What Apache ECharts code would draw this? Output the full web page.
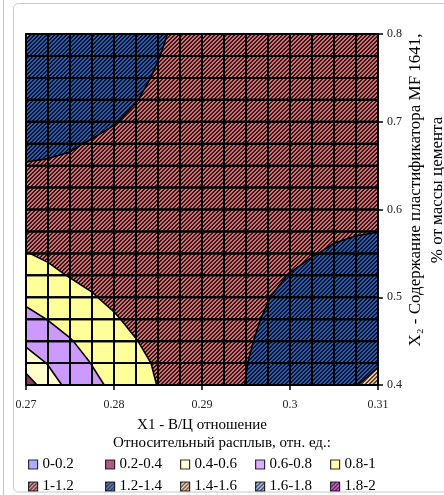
<!DOCTYPE html>
<html><head><meta charset="utf-8">
<script src="https://cdn.jsdelivr.net/npm/echarts@6/dist/echarts.min.js"></script>
<style>html,body{margin:0;padding:0;background:#fff;}#c{width:444px;height:495px;}</style>
</head><body><div id="c"></div>
<script>
// X1 (В/Ц) grid nodes and X2 (MF 1641) grid nodes
const xValues = [0.27,0.2725,0.275,0.2775,0.28,0.2825,0.285,0.2875,0.29,0.2925,0.295,0.2975,0.3,0.3025,0.305,0.3075,0.31];
const yValues = [0.4,0.425,0.45,0.475,0.5,0.525,0.55,0.575,0.6,0.625,0.65,0.675,0.7,0.725,0.75,0.775,0.8];
// Relative spread values, one array per X2 level
const z_0400 = [0.30,0.50,0.66,0.748,0.842,0.926,1.005,1.06,1.111,1.16,1.203,1.258,1.31,1.352,1.388,1.398,1.42];
const z_0425 = [0.486,0.611,0.706,0.807,0.886,0.968,1.015,1.077,1.128,1.16,1.196,1.245,1.305,1.346,1.38,1.385,1.395];
const z_0450 = [0.642,0.706,0.789,0.863,0.938,0.995,1.051,1.095,1.136,1.16,1.185,1.23,1.289,1.327,1.359,1.38,1.388];
const z_0475 = [0.746,0.805,0.862,0.927,0.985,1.035,1.072,1.113,1.136,1.155,1.18,1.21,1.25,1.29,1.327,1.346,1.352];
const z_0500 = [0.839,0.883,0.936,0.99,1.03,1.061,1.094,1.116,1.137,1.155,1.175,1.197,1.228,1.26,1.285,1.305,1.31];
const z_0525 = [0.921,0.964,1.008,1.033,1.059,1.088,1.105,1.119,1.137,1.15,1.165,1.18,1.203,1.225,1.245,1.258,1.262];
const z_0550 = [0.995,1.025,1.045,1.066,1.091,1.103,1.113,1.125,1.137,1.145,1.155,1.165,1.178,1.195,1.212,1.22,1.225];
const z_0575 = [1.049,1.066,1.084,1.104,1.108,1.114,1.122,1.131,1.134,1.139,1.147,1.156,1.167,1.177,1.186,1.195,1.199];
const z_0600 = [1.096,1.113,1.122,1.124,1.125,1.129,1.133,1.131,1.132,1.134,1.137,1.144,1.151,1.157,1.163,1.167,1.168];
const z_0625 = [1.147,1.151,1.15,1.149,1.147,1.144,1.138,1.134,1.131,1.131,1.133,1.135,1.139,1.143,1.147,1.149,1.15];
const z_0650 = [1.193,1.183,1.175,1.165,1.16,1.152,1.145,1.138,1.133,1.13,1.129,1.129,1.131,1.133,1.135,1.137,1.137];
const z_0675 = [1.236,1.236,1.215,1.19,1.175,1.16,1.148,1.144,1.136,1.13,1.127,1.127,1.127,1.127,1.128,1.129,1.13];
const z_0700 = [1.289,1.283,1.268,1.235,1.205,1.18,1.16,1.152,1.139,1.131,1.128,1.125,1.124,1.124,1.124,1.125,1.125];
const z_0725 = [1.334,1.327,1.307,1.278,1.245,1.203,1.175,1.161,1.145,1.134,1.127,1.124,1.122,1.121,1.122,1.122,1.122];
const z_0750 = [1.373,1.365,1.341,1.307,1.268,1.22,1.19,1.168,1.149,1.136,1.129,1.124,1.122,1.12,1.12,1.12,1.121];
const z_0775 = [1.39,1.388,1.365,1.327,1.283,1.24,1.203,1.174,1.152,1.138,1.13,1.125,1.122,1.12,1.12,1.12,1.12];
const z_0800 = [1.403,1.39,1.373,1.334,1.289,1.245,1.215,1.18,1.153,1.139,1.13,1.125,1.122,1.12,1.12,1.12,1.12];
const levels = [0,0.2,0.4,0.6,0.8,1,1.2,1.4,1.6,1.8,2];
const bandNames = ['0-0.2','0.2-0.4','0.4-0.6','0.6-0.8','0.8-1','1-1.2','1.2-1.4','1.4-1.6','1.6-1.8','1.8-2'];

const rows = [z_0400,z_0425,z_0450,z_0475,z_0500,z_0525,z_0550,z_0575,z_0600,z_0625,z_0650,z_0675,z_0700,z_0725,z_0750,z_0775,z_0800];

function hatch(bg, fg) {
  const c = document.createElement('canvas'); c.width = 4; c.height = 4;
  const ctx = c.getContext('2d');
  ctx.fillStyle = bg; ctx.fillRect(0,0,4,4);
  ctx.fillStyle = fg;
  for (let x=0;x<4;x++) for (let y=0;y<4;y++) if ((x+y)%4 < 2) ctx.fillRect(x,y,1,1);
  return {image: c, repeat: 'repeat'};
}
const bandFills = ['#9999FF','#993366','#FFFFCC','#CC99FF','#FFFF99',
  hatch('#CC7474','#3A1418'), hatch('#2A5CAC','#0A1430'), hatch('#E8C4A0','#5A3C28'),
  hatch('#99B4E6','#1A2440'), hatch('#CC33CC','#330033')];

const cells = [];
for (let j=0;j<yValues.length-1;j++) for (let i=0;i<xValues.length-1;i++) cells.push([xValues[i], yValues[j], i, j]);

function clip(poly, L, above) {
  const out = [];
  const n = poly.length;
  for (let k=0;k<n;k++) {
    const A = poly[k], B = poly[(k+1)%n];
    const inA = above ? A.v >= L : A.v < L;
    const inB = above ? B.v >= L : B.v < L;
    if (inA) out.push(A);
    if (inA !== inB) {
      const t = (L - A.v) / (B.v - A.v);
      out.push({p:[A.p[0]+(B.p[0]-A.p[0])*t, A.p[1]+(B.p[1]-A.p[1])*t], v:L});
    }
  }
  return out;
}

function renderItem(params, api) {
  const i = api.value(2), j = api.value(3);
  const c = [[i,j],[i+1,j],[i+1,j+1],[i,j+1]].map(([a,b]) => ({p: api.coord([xValues[a], yValues[b]]), v: rows[b][a]}));
  const children = [];
  for (let k=0;k<10;k++) {
    let poly = clip(c, levels[k], true);
    if (k < 9 && poly.length) poly = clip(poly, levels[k+1], false);
    if (poly.length >= 3) children.push({type:'polygon', z2:0, shape:{points: poly.map(q=>q.p)}, style:{fill: bandFills[k]}});
  }
  for (let k=1;k<10;k++) {
    const L = levels[k], pts = [];
    for (let e=0;e<4;e++) {
      const A = c[e], B = c[(e+1)%4];
      if ((A.v-L)*(B.v-L) < 0) {
        const t = (L-A.v)/(B.v-A.v);
        pts.push([A.p[0]+(B.p[0]-A.p[0])*t, A.p[1]+(B.p[1]-A.p[1])*t]);
      }
    }
    for (let m=0;m+1<pts.length;m+=2) children.push({type:'line', z2:5, shape:{x1:pts[m][0],y1:pts[m][1],x2:pts[m+1][0],y2:pts[m+1][1]}, style:{stroke:'#000', lineWidth:1.6}});
  }
  children.push({type:'rect', z2:10, shape:{x:c[0].p[0], y:c[3].p[1], width:c[1].p[0]-c[0].p[0], height:c[0].p[1]-c[3].p[1]}, style:{fill:null, stroke:'#000', lineWidth:2}});
  return {type:'group', children};
}

const serif = '"Liberation Serif", "Times New Roman", serif';
const legendLefts = [23, 100, 175, 250, 325];
const legends = bandNames.map((n,k) => ({
  data:[n], left: legendLefts[k%5], top: k<5 ? 452 : 474,
  icon:'rect', itemWidth:9, itemHeight:9, itemGap:0, selectedMode:false,
  itemStyle:{borderColor:'#000', borderWidth:1.2},
  textStyle:{fontFamily: serif, fontSize:15, color:'#000', padding:[0,0,0,0]}
}));

const chart = echarts.init(document.getElementById('c'), null, {renderer:'canvas'});
chart.setOption({
  animation:false,
  backgroundColor:'#fff',
  grid:{left:26, top:34, width:352, height:351, show:false},
  xAxis:{type:'value', min:0.27, max:0.31, interval:0.01,
    axisLine:{show:true, onZero:false, lineStyle:{color:'#000', width:1}},
    axisTick:{show:true, length:5, lineStyle:{color:'#000', width:1.5}},
    axisLabel:{fontFamily:serif, fontSize:12, color:'#222', margin:14},
    splitLine:{show:false},
    name:'X1 - В/Ц отношение', nameLocation:'middle', nameGap:33,
    nameTextStyle:{fontFamily:serif, fontSize:15, color:'#000'}},
  yAxis:{type:'value', position:'right', min:0.4, max:0.8, interval:0.1,
    axisLine:{show:true, onZero:false, lineStyle:{color:'#000', width:1}},
    axisTick:{show:true, length:5, lineStyle:{color:'#000', width:1.5}},
    axisLabel:{fontFamily:serif, fontSize:12, color:'#222', margin:9},
    splitLine:{show:false}},
  legend: legends,
  graphic:[
    {type:'line', silent:true, shape:{x1:3.5,y1:0,x2:3.5,y2:495}, style:{stroke:'#C8C8C8', lineWidth:1}},
    {type:'rect', silent:true, shape:{x:13.5,y:3.5,width:460,height:488.5,r:5}, style:{fill:null, stroke:'#C8C8C8', lineWidth:1}},
    {type:'text', silent:true, x:427, y:190, rotation:Math.PI/2,
      style:{text:'X₂ - Содержание пластификатора MF 1641,\n% от массы цемента', fontFamily:serif, fontSize:17, fill:'#000', align:'center', verticalAlign:'middle', lineHeight:22}},
    {type:'text', silent:true, left:'center', top:436,
      style:{text:'Относительный расплыв, отн. ед.:', fontFamily:serif, fontSize:15, fill:'#000'}}
  ],
  series: [{type:'custom', silent:true, renderItem, data: cells, encode:{x:0, y:1}, clip:false}]
    .concat(bandNames.map((n,k) => ({type:'scatter', name:n, data:[], itemStyle:{color: bandFills[k], borderColor:'#000', borderWidth:1.2}})))
});
</script></body></html>
